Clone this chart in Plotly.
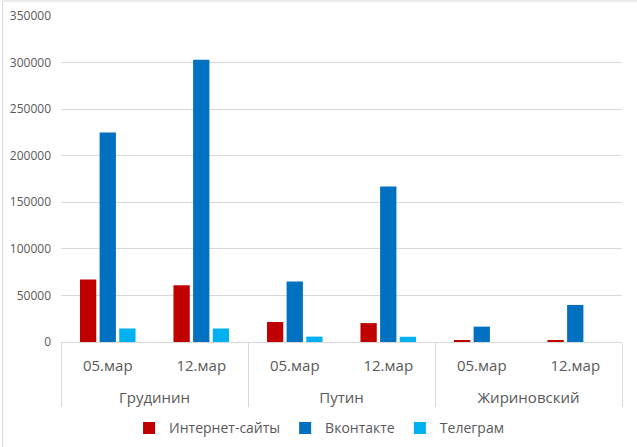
import plotly.graph_objects as go

# candidates and dates (two-level category axis)
candidates = ["Грудинин", "Грудинин", "Путин", "Путин", "Жириновский", "Жириновский"]
dates = ["05.мар", "12.мар", "05.мар", "12.мар", "05.мар", "12.мар"]

# mentions per source
internet_sites = [67000, 61000, 21500, 20300, 2000, 2000]
vkontakte = [225000, 303000, 65000, 167000, 16500, 39800]
telegram = [14500, 14500, 5800, 5600, 0, 0]

series_names = ["Интернет-сайты", "Вконтакте", "Телеграм"]
series_colours = ["#C00000", "#0070C0", "#00B0F0"]

# trailing empty line pushes the candidate row further down, like in Excel
date_labels = [d + "<br> " for d in dates]

fig = go.Figure()
for name, vals, col in zip(series_names, [internet_sites, vkontakte, telegram], series_colours):
    fig.add_trace(
        go.Bar(
            x=[candidates, date_labels],
            y=vals,
            name=name,
            marker=dict(color=col, line=dict(width=0)),
        )
    )

fig.update_layout(
    width=637,
    height=447,
    barmode="group",
    bargap=0.37,
    bargroupgap=0.17,
    plot_bgcolor="white",
    paper_bgcolor="white",
    font=dict(family="Open Sans", color="#595959"),
    margin=dict(l=61, r=15, t=16, b=105, autoexpand=False),
    legend=dict(
        orientation="h",
        x=0.46,
        xanchor="center",
        y=-0.265,
        yanchor="middle",
        font=dict(size=14, color="#595959"),
        itemwidth=30,
    ),
    # chart area border
    shapes=[
        dict(
            type="rect",
            xref="paper",
            yref="paper",
            x0=-0.104,
            x1=1.04,
            y0=-0.35,
            y1=1.046,
            line=dict(color="#D9D9D9", width=1),
        )
    ],
)

fig.update_xaxes(
    automargin=False,
    showgrid=False,
    showline=True,
    linecolor="#D9D9D9",
    linewidth=1,
    tickfont=dict(size=15, color="#595959"),
    showdividers=True,
    dividercolor="#D9D9D9",
    dividerwidth=1,
    ticks="",
    ticklabelstandoff=10,
)
fig.update_yaxes(
    automargin=False,
    range=[0, 350000],
    dtick=50000,
    tickformat="d",
    showgrid=True,
    gridcolor="#D9D9D9",
    gridwidth=1,
    zeroline=False,
    showline=False,
    tickfont=dict(size=12, color="#595959"),
    ticklabelstandoff=9,
)

fig.write_html(
    "out.html",
    config={"displayModeBar": False},
    post_script="document.body.style.margin='0';",
)
